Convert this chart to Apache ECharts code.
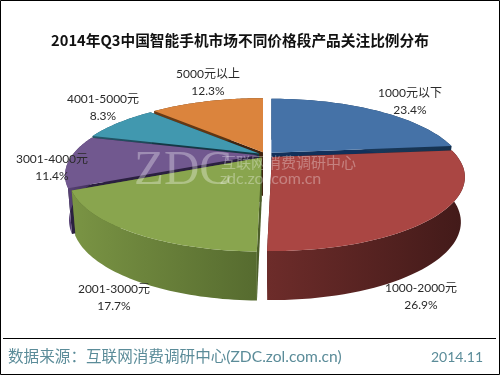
<!DOCTYPE html>
<html>
<head>
<meta charset="utf-8">
<style>
html, body { margin: 0; padding: 0; background: #fff; }
#main { width: 500px; height: 375px; }
</style>
<script src="https://cdn.jsdelivr.net/npm/echarts@6/dist/echarts.min.js"></script>
</head>
<body>
<div id="main"></div>
<script>
var categories = ['1000元以下', '1000-2000元', '2001-3000元', '3001-4000元', '4001-5000元', '5000元以上'];
var shares = [23.4, 26.9, 17.7, 11.4, 8.3, 12.3];
var titleText = '2014年Q3中国智能手机市场不同价格段产品关注比例分布';
var sourceText = '数据来源：互联网消费调研中心(ZDC.zol.com.cn)';
var dateText = '2014.11';

var topColors = ['#4572A7', '#AA4643', '#89A54E', '#71588F', '#4198AF', '#DB843D'];
var wallColors = [['#1d3f66', '#16324f'], ['#6d2c2a', '#421a19'], ['#7a9444', '#566b2f'], ['#5a4478', '#3f2e58'], ['#24586a', '#1d4757'], ['#6b3c16', '#55300f']];
var cutColors = ['#12305a', '#4a1d1c', '#4d5f2a', '#2b2040', '#143845', '#3f2410'];
// 先画后面的扇区，前面的盖上去
var paintOrder = [2, 4, 5, 3, 1, 0];
var labelCenters = [[410, 102], [421, 297], [114, 298], [52, 168], [103, 108], [208, 83]];

var font = 'Lato, "Noto Sans CJK SC", sans-serif';
var cx = 266;
var topFace = { a: 193, b: 74, cy: 175 };
var bottomFace = { a: 189, b: 78, cy: 220 };
var skew = 0.27;        // 透视：圆心往后移
var explode = 8;

var myChart = echarts.init(document.getElementById('main'));

function project(theta, face, offset) {
    var u = Math.sin(theta), v = Math.cos(theta);
    var w = 1 + skew * v;
    var U = u * Math.sqrt(1 - skew * skew) / w;
    var V = (v + skew) / w;
    return [cx + offset[0] + face.a * U, face.cy + offset[1] - face.b * V];
}

function apex(face, offset) {
    return [cx + offset[0], face.cy + offset[1] - face.b * skew];
}

function arc(start, end, face, offset) {
    var pts = [];
    for (var i = 0; i <= 48; i++) {
        pts.push(project(start + (end - start) * i / 48, face, offset));
    }
    return pts;
}

function renderSlice(params, api) {
    var idx = params.dataIndex;
    var before = 0;
    for (var i = 0; i < idx; i++) before += shares[i];
    var start = before / 100 * Math.PI * 2;
    var end = (before + api.value(0)) / 100 * Math.PI * 2;
    var mid = (start + end) / 2;
    var offset = [explode * Math.sin(mid), -explode * Math.cos(mid) * topFace.b / topFace.a];
    var order = paintOrder[idx] * 10;

    var topArc = arc(start, end, topFace, offset);
    var bottomArc = arc(start, end, bottomFace, offset);
    var topApex = apex(topFace, offset);
    var bottomApex = apex(bottomFace, offset);

    function poly(points, fill, z2) {
        return { type: 'polygon', shape: { points: points }, style: { fill: fill }, z2: z2, silent: true };
    }

    var wallFill = new echarts.graphic.LinearGradient(0, 0, 1, 0, [
        { offset: 0, color: wallColors[idx][0] },
        { offset: 1, color: wallColors[idx][1] }
    ]);
    var cut1 = [topApex, topArc[0], bottomArc[0], bottomApex];
    var cut2 = [topApex, topArc[48], bottomArc[48], bottomApex];
    var wall = topArc.concat(bottomArc.slice().reverse());
    var face = [topApex].concat(topArc);

    return {
        type: 'group',
        children: [
            poly(cut1, cutColors[idx], order + 1),
            poly(cut2, cutColors[idx], order + 1),
            poly(wall, wallFill, order + 2),
            poly(face, topColors[idx], order + 3)
        ]
    };
}

function labelText(i) {
    return {
        type: 'text',
        x: labelCenters[i][0],
        y: labelCenters[i][1],
        z: 20,
        style: {
            text: categories[i] + '\n' + shares[i] + '%',
            fill: '#2a2a2a',
            font: '12px ' + font,
            lineHeight: 17,
            align: 'center',
            verticalAlign: 'middle'
        }
    };
}

var graphics = [
    { type: 'rect', z: 0, shape: { x: 0.5, y: 0.5, width: 499, height: 374 }, style: { fill: '#fff', stroke: '#000', lineWidth: 1 } },
    { type: 'line', z: 1, shape: { x1: 3, y1: 338.5, x2: 496, y2: 338.5 }, style: { stroke: '#000', lineWidth: 1 } },
    { type: 'text', x: 240, y: 40, z: 20, style: { text: titleText, fill: '#111', font: 'bold 14.7px "Noto Sans CJK SC", sans-serif', align: 'center', verticalAlign: 'middle' } },
    { type: 'text', x: 8, y: 357, z: 20, style: { text: sourceText, fill: '#5b8c99', font: '15.6px ' + font, verticalAlign: 'middle' } },
    { type: 'text', x: 483, y: 357, z: 20, style: { text: dateText, fill: '#5b8c99', font: '14px ' + font, align: 'right', verticalAlign: 'middle' } },
    { type: 'text', x: 134, y: 171, z: 30, style: { text: 'ZDC', fill: 'rgba(255,255,255,0.32)', font: '49px "Liberation Serif", serif', verticalAlign: 'middle' } },
    { type: 'text', x: 221, y: 162, z: 30, style: { text: '互联网消费调研中心', fill: 'rgba(255,255,255,0.32)', font: '15px "Noto Sans CJK SC", sans-serif', verticalAlign: 'middle' } },
    { type: 'text', x: 220, y: 179, z: 30, style: { text: 'zdc.zol.com.cn', fill: 'rgba(255,255,255,0.32)', font: '16px ' + font, verticalAlign: 'middle' } }
];
for (var n = 0; n < categories.length; n++) {
    graphics.push(labelText(n));
}

var option = {
    animation: false,
    graphic: { elements: graphics },
    series: [{
        type: 'custom',
        coordinateSystem: 'none',
        z: 10,
        renderItem: renderSlice,
        data: shares.map(function (v) { return [v]; })
    }]
};
myChart.setOption(option);
</script>
</body>
</html>
